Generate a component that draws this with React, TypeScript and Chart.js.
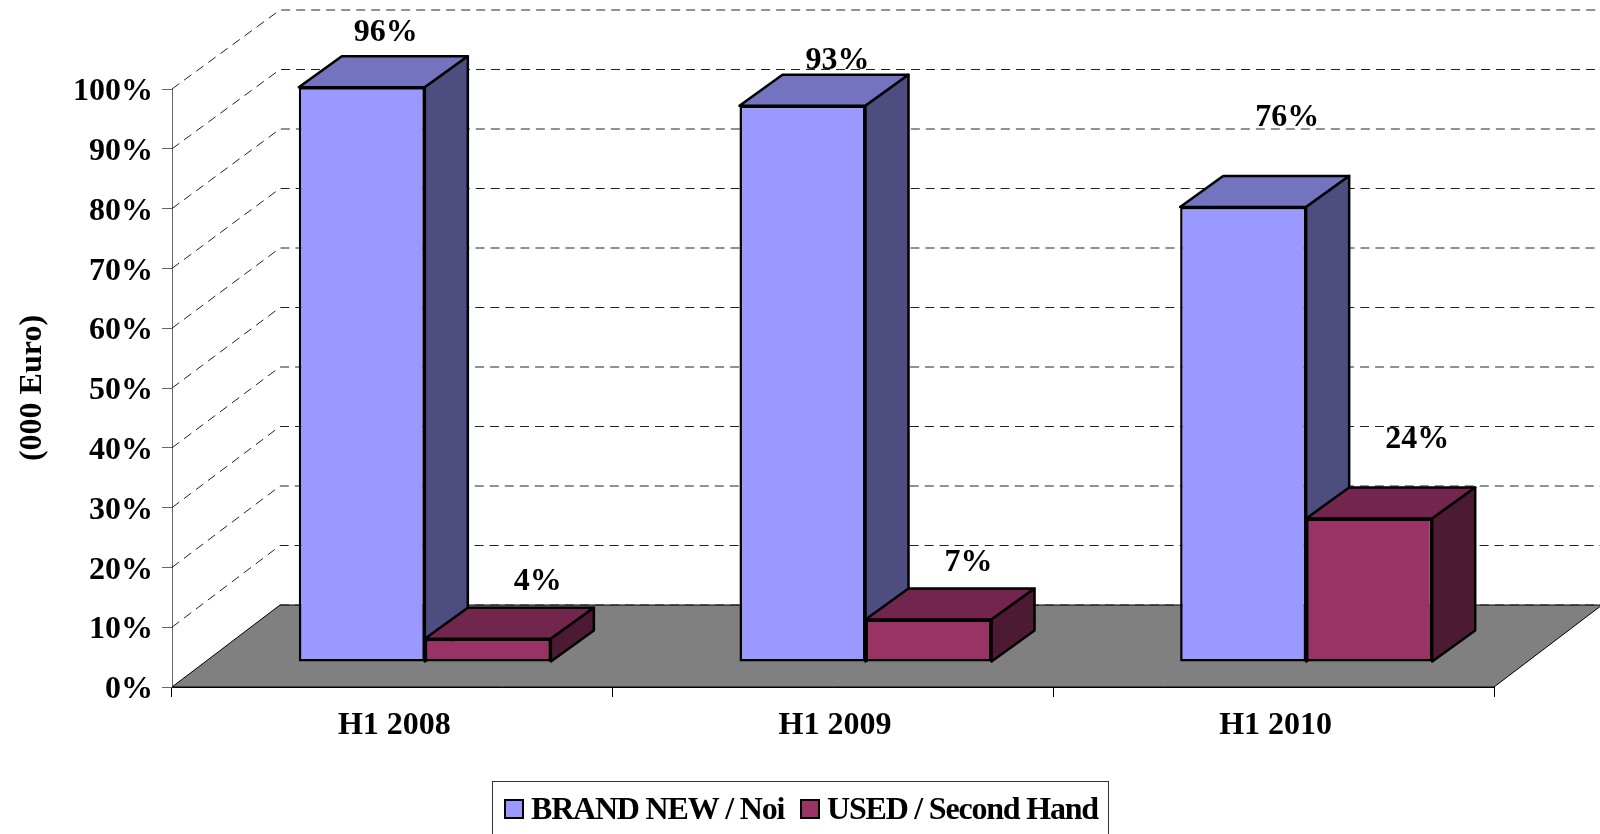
import React, { useEffect, useRef } from "react";
import { Chart, registerables } from "chart.js";

Chart.register(...registerables);

const categories = ["H1 2008", "H1 2009", "H1 2010"];
const brandNew = [96.1, 93, 76.1];
const used = [3.9, 7.1, 24];
const seriesNames = ["BRAND NEW / Noi", "USED / Second Hand"];

// Offsets of each value label from its bar's top centre
const labelOffsets = [
  [[24, -55], [35, -45], [44, -89]],
  [[50, -57], [40, -57], [48, -79]],
];

const FONT = "'Liberation Serif', serif";
const WALL_DX = 108;
const BAR_SHIFT = { x: 32.5, y: -25 };
const BAR_DEPTH = { x: 43, y: -31 };
const wallDy = (v: number) => -82 + (3 * v) / 100;

function poly(ctx: CanvasRenderingContext2D, pts: number[][], fill: string) {
  ctx.beginPath();
  pts.forEach((p, i) => (i ? ctx.lineTo(p[0], p[1]) : ctx.moveTo(p[0], p[1])));
  ctx.closePath();
  ctx.fillStyle = fill;
  ctx.fill();
  ctx.stroke();
}

function drawFaces(chart: any, index: number) {
  const { ctx } = chart;
  const ds = chart.data.datasets[index];
  ctx.strokeStyle = "#000";
  ctx.lineWidth = 2.5;
  ctx.lineJoin = "round";
  chart.getDatasetMeta(index).data.forEach((el: any) => {
    const { x, y, base, width } = el.getProps(["x", "y", "base", "width"], true);
    const l = x - width / 2;
    const r = x + width / 2;
    const { x: dx, y: dy } = BAR_DEPTH;
    poly(ctx, [[l, y], [l + dx, y + dy], [r + dx, y + dy], [r, y]], ds.topColor);
    poly(ctx, [[r, y], [r + dx, y + dy], [r + dx, base + dy], [r, base]], ds.sideColor);
  });
}

const scene3d = {
  id: "scene3d",
  beforeDatasetsDraw(chart: any) {
    const { ctx, scales } = chart;
    const yS = scales.y;
    const L = yS.left + yS.width;
    const R = scales.x.right;
    const y0 = yS.getPixelForValue(0);
    const d0 = wallDy(0);
    ctx.save();
    ctx.strokeStyle = "#000";
    ctx.lineWidth = 1;
    ctx.beginPath();
    ctx.moveTo(L, y0);
    ctx.lineTo(L + WALL_DX, y0 + d0);
    ctx.lineTo(R + WALL_DX, y0 + d0);
    ctx.lineTo(R, y0);
    ctx.closePath();
    ctx.fillStyle = "#808080";
    ctx.fill();
    ctx.stroke();
    ctx.setLineDash([9, 6]);
    ctx.strokeStyle = "#222";
    yS.ticks.forEach((t: any) => {
      const y = yS.getPixelForValue(t.value);
      const d = wallDy(t.value);
      ctx.beginPath();
      if (t.value !== 0) {
        ctx.moveTo(L, y);
        ctx.lineTo(L + WALL_DX, y + d);
      } else {
        ctx.moveTo(L + WALL_DX, y + d);
      }
      ctx.lineTo(1600, y + d);
      ctx.stroke();
    });
    ctx.restore();
  },
  beforeDatasetDraw(chart: any, args: any) {
    // The second series must sit in front of the first: it is drawn right after it.
    if (args.index === 1) return false;
    chart.ctx.save();
    chart.ctx.translate(BAR_SHIFT.x, BAR_SHIFT.y);
    drawFaces(chart, 0);
  },
  afterDatasetDraw(chart: any, args: any) {
    if (args.index !== 0) return;
    drawFaces(chart, 1);
    chart.getDatasetMeta(1).controller.draw();
    chart.ctx.restore();
  },
  afterDatasetsDraw(chart: any) {
    const { ctx } = chart;
    ctx.save();
    ctx.font = `bold 32px ${FONT}`;
    ctx.fillStyle = "#000";
    ctx.textAlign = "center";
    ctx.textBaseline = "middle";
    chart.data.datasets.forEach((ds: any, di: number) => {
      chart.getDatasetMeta(di).data.forEach((el: any, i: number) => {
        const off = labelOffsets[di][i];
        const { x, y } = el.getProps(["x", "y"], true);
        ctx.fillText(`${Math.round(ds.data[i])}%`, x + BAR_SHIFT.x + off[0], y + BAR_SHIFT.y + off[1]);
      });
    });
    ctx.restore();
  },
  afterDraw(chart: any) {
    const { ctx } = chart;
    ctx.save();
    ctx.strokeStyle = "#333";
    ctx.lineWidth = 1;
    ctx.strokeRect(492.5, 781.5, 616, 80);
    const items = [
      { box: 505, text: 531 },
      { box: 801, text: 827 },
    ];
    chart.data.datasets.forEach((ds: any, i: number) => {
      ctx.fillStyle = ds.backgroundColor;
      ctx.strokeStyle = "#000";
      ctx.lineWidth = 2;
      ctx.fillRect(items[i].box, 800, 18, 18);
      ctx.strokeRect(items[i].box, 800, 18, 18);
      ctx.fillStyle = "#000";
      ctx.font = `bold 32px ${FONT}`;
      (ctx as any).letterSpacing = "-1.2px";
      ctx.textAlign = "left";
      ctx.textBaseline = "middle";
      ctx.fillText(ds.label, items[i].text, 811);
    });
    ctx.restore();
  },
};

export default function App() {
  const ref = useRef<HTMLCanvasElement>(null);
  useEffect(() => {
    document.body.style.margin = "0";
    const chart = new Chart(ref.current as HTMLCanvasElement, {
      type: "bar",
      data: {
        labels: categories,
        datasets: [
          {
            label: seriesNames[0],
            data: brandNew,
            backgroundColor: "#9999FF",
            borderColor: "#000",
            borderWidth: 2.5,
            borderSkipped: false,
            clip: false,
            topColor: "#7373BF",
            sideColor: "#4D4D80",
          },
          {
            label: seriesNames[1],
            data: used,
            backgroundColor: "#993366",
            borderColor: "#000",
            borderWidth: 2.5,
            borderSkipped: false,
            clip: false,
            topColor: "#73264D",
            sideColor: "#4D1A33",
          },
        ] as any,
      },
      options: {
        animation: false,
        responsive: false,
        events: [],
        layout: { padding: { left: 0, right: 106, top: 89, bottom: 0 } },
        datasets: { bar: { barPercentage: 1, categoryPercentage: 0.572 } },
        plugins: {
          tooltip: { enabled: false },
          legend: { display: false },
        },
        scales: {
          x: {
            afterFit: (s: any) => { s.height = 147; },
            grid: { drawOnChartArea: false, drawTicks: true, tickLength: 10, color: "#000" },
            border: { color: "#000" },
            ticks: { color: "#000", padding: 10, labelOffset: 2, maxRotation: 0, font: { family: FONT, weight: "bold", size: 32 } },
          },
          y: {
            min: 0,
            max: 100,
            afterFit: (s: any) => { s.width = 172; },
            grid: { drawOnChartArea: false, drawTicks: true, tickLength: 10, color: "#666" },
            border: { color: "#666" },
            ticks: {
              stepSize: 10,
              color: "#000",
              padding: 9,
              labelOffset: 3,
              font: { family: FONT, weight: "bold", size: 32 },
              callback: (v: any) => `${v}%`,
            },
            title: {
              display: true,
              text: "(000 Euro)",
              color: "#000",
              padding: { top: 14, bottom: 0 },
              font: { family: FONT, weight: "bold", size: 32 },
            },
          },
        },
      },
      plugins: [scene3d],
    } as any);
    return () => chart.destroy();
  }, []);
  return <canvas ref={ref} width={1600} height={834} style={{ display: "block" }} />;
}
